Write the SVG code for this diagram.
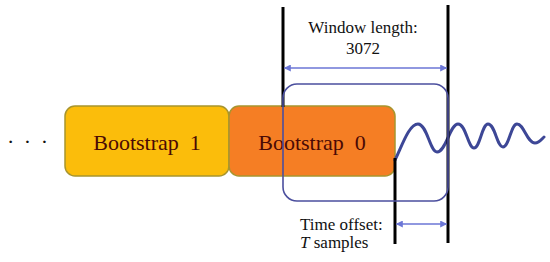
<svg xmlns="http://www.w3.org/2000/svg" width="550" height="262" viewBox="0 0 550 262">
  <defs>
    <marker id="ah" viewBox="0 0 10 10" refX="9" refY="5" markerWidth="8" markerHeight="7" markerUnits="userSpaceOnUse" orient="auto-start-reverse">
      <path d="M0,0 L10,5 L0,10 Z" fill="#6b76d6"/>
    </marker>
  </defs>
  <style>
    .box { stroke: #a8952e; stroke-width: 1.5; }
    .lbl { font-family: 'Liberation Serif', 'DejaVu Serif', serif; font-size: 22px; fill: #4a0a05; text-anchor: middle; }
    .txt { font-family: 'Liberation Serif', 'DejaVu Serif', serif; font-size: 17px; fill: #111; }
    .bar { stroke: #000; stroke-width: 3; fill: none; }
    .arr { stroke: #6b76d6; stroke-width: 1.6; fill: none; marker-start: url(#ah); marker-end: url(#ah); }
  </style>
  <rect width="550" height="262" fill="#ffffff"/>

  <text class="txt" x="7" y="149" letter-spacing="2" style="font-size:22px">· · ·</text>

  <g id="bootstrap1">
    <rect class="box" x="65" y="106" width="164" height="70" rx="10" fill="#fbbd0b"/>
    <text class="lbl" x="147" y="150" xml:space="preserve">Bootstrap  1</text>
  </g>
  <g id="bootstrap0">
    <rect class="box" x="229" y="106" width="166" height="70" rx="10" fill="#f57e24"/>
    <text class="lbl" x="312" y="150" xml:space="preserve">Bootstrap  0</text>
  </g>

  <g id="signal">
    <path d="M395,160 C402,146 409,124 418,124 C427,124 430,152 437,152 C446,152 450,124 458,124 C466,124 468,148 474,148 C480,148 482,124 488,124 C495,124 497,147 503,147 C509,147 511,124 517,124 C524,124 527,143 535,143 C539,143 541,140 544,137" fill="none" stroke="#3d4796" stroke-width="3" stroke-linecap="round"/>
  </g>

  <g id="connectors">
    <line class="bar" x1="283" y1="7" x2="283" y2="107"/>
    <line class="bar" x1="448" y1="5" x2="448" y2="243"/>
    <line class="bar" x1="395" y1="158" x2="395" y2="244"/>
    <rect x="283" y="84" width="165" height="117" rx="14" fill="none" stroke="#4b4f9e" stroke-width="1.6"/>
    <line class="arr" x1="284.5" y1="68" x2="446.5" y2="68"/>
    <line class="arr" x1="396.5" y1="224" x2="446.5" y2="224"/>
  </g>

  <g id="window-label">
    <text class="txt" x="363" y="33" text-anchor="middle">Window length:</text>
    <text class="txt" x="363" y="54" text-anchor="middle">3072</text>
  </g>
  <g id="offset-label">
    <text class="txt" x="300" y="230">Time offset:</text>
    <text class="txt" x="300" y="248"><tspan font-style="italic">T</tspan> samples</text>
  </g>
</svg>
